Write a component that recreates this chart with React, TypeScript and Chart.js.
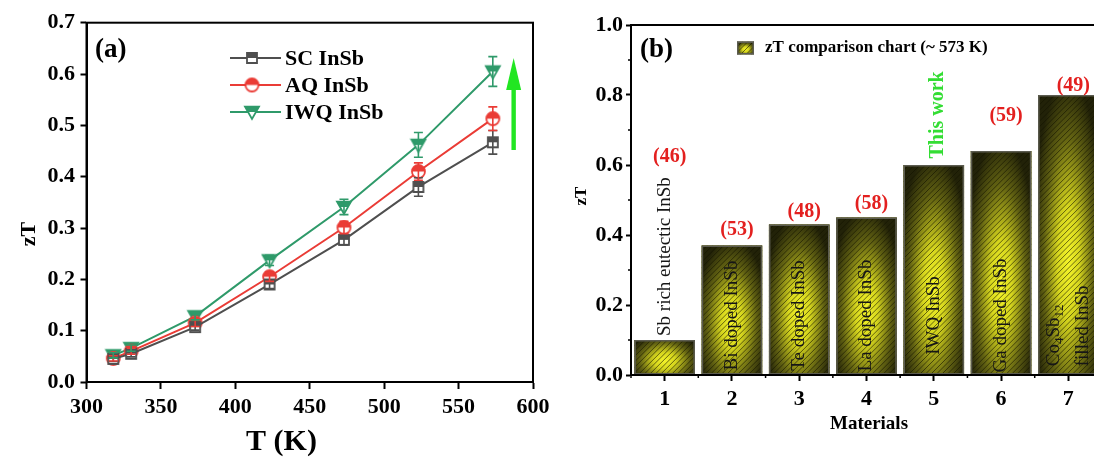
import React, { useEffect, useRef } from 'react';
import { Chart, registerables } from 'chart.js';
Chart.register(...registerables);

const FONT = "'Liberation Serif', 'Times New Roman', serif";

// ---------- Panel (a) data ----------
const temperatures = [318, 330, 373, 423, 473, 523, 573];
const scZT = [0.045, 0.055, 0.107, 0.19, 0.277, 0.38, 0.467];
const aqZT = [0.046, 0.06, 0.115, 0.205, 0.301, 0.41, 0.513];
const iwqZT = [0.052, 0.066, 0.128, 0.237, 0.341, 0.462, 0.605];
const scErr = [0.005, 0.006, 0.006, 0.008, 0.01, 0.018, 0.023];
const aqErr = [0.005, 0.006, 0.007, 0.009, 0.012, 0.017, 0.023];
const iwqErr = [0.005, 0.006, 0.007, 0.01, 0.015, 0.024, 0.029];
const seriesNames = ['SC InSb', 'AQ InSb', 'IWQ InSb'];
const seriesColors = ['#4f4f4f', '#ea3c36', '#2f9a6a'];
const seriesShapes = ['square', 'circle', 'triangle'];
const arrowT = 587;
const arrowFrom = 0.452;
const arrowTo = 0.631;

// ---------- Panel (b) data ----------
const materials = ['1', '2', '3', '4', '5', '6', '7'];
const materialZT = [0.1, 0.37, 0.43, 0.45, 0.6, 0.64, 0.8];
const materialNames = [
  'Sb rich eutectic InSb',
  'Bi doped InSb',
  'Te doped InSb',
  'La doped InSb',
  'IWQ InSb',
  'Ga doped InSb',
  'Co4Sb12\nfilled InSb',
];
const refLabels = ['(46)', '(53)', '(48)', '(58)', '', '(59)', '(49)'];
const refLabelY = [0.624, 0.414, 0.465, 0.49, 0, 0.74, 0.826];
const thisWorkIndex = 4;
const thisWorkY = 0.743;
const legendBText = 'zT comparison chart (~ 573 K)';

function makeMarker(shape: string, color: string, size: number) {
  const pad = 2;
  const S = size + pad * 2;
  const c = document.createElement('canvas');
  c.width = S;
  c.height = S;
  const g = c.getContext('2d')!;
  const cx = S / 2, cy = S / 2, r = size / 2;
  const path = () => {
    g.beginPath();
    if (shape === 'square') g.rect(cx - r, cy - r, size, size);
    else if (shape === 'circle') g.arc(cx, cy, r, 0, Math.PI * 2);
    else {
      g.moveTo(cx - r, cy - r * 0.75);
      g.lineTo(cx + r, cy - r * 0.75);
      g.lineTo(cx, cy + r);
      g.closePath();
    }
  };
  path();
  g.fillStyle = '#fff';
  g.fill();
  g.save();
  path();
  g.clip();
  g.fillStyle = color;
  g.fillRect(0, 0, S, cy);
  g.restore();
  path();
  g.strokeStyle = color;
  g.lineWidth = 1.8;
  g.stroke();
  return c;
}

function paintBar(ctx: CanvasRenderingContext2D, left: number, top: number, w: number, h: number) {
  ctx.save();
  ctx.beginPath();
  ctx.rect(left, top, w, h);
  ctx.clip();
  const cx = left + w / 2, cy = top + h * 0.6;
  const rx = w * 0.6;
  const ry = Math.max(h * 0.66, w * 0.45);
  ctx.save();
  ctx.translate(cx, cy);
  ctx.scale(1, ry / rx);
  const g = ctx.createRadialGradient(0, 0, 0, 0, 0, rx);
  g.addColorStop(0, '#f4f42a');
  g.addColorStop(0.3, '#d6d61e');
  g.addColorStop(0.68, '#626212');
  g.addColorStop(1, '#222208');
  ctx.fillStyle = g;
  ctx.fillRect(-2000, -2000, 4000, 4000);
  ctx.restore();
  ctx.strokeStyle = 'rgba(20,20,0,0.6)';
  ctx.lineWidth = 1;
  ctx.beginPath();
  const bottom = top + h;
  for (let k = -h; k < w + 2; k += 5.5) {
    ctx.moveTo(left + k, bottom);
    ctx.lineTo(left + k + h, bottom - h);
  }
  ctx.stroke();
  ctx.restore();
  ctx.save();
  ctx.strokeStyle = '#5c5c50';
  ctx.lineWidth = 1.5;
  ctx.strokeRect(left + 0.75, top + 0.75, w - 1.5, h - 1.5);
  ctx.restore();
}

function drawRichRotated(ctx: CanvasRenderingContext2D, text: string, size: number) {
  const parts: { t: string; sub: boolean }[] = [];
  const re = /([A-Za-z][^0-9]*)|([0-9]+)/g;
  let m: RegExpExecArray | null;
  let prevLetter = false;
  while ((m = re.exec(text))) {
    if (m[1]) {
      parts.push({ t: m[1], sub: false });
      prevLetter = true;
    } else {
      parts.push({ t: m[2], sub: prevLetter });
    }
  }
  let x = 0;
  for (const p of parts) {
    ctx.font = p.sub ? `${Math.round(size * 0.68)}px ${FONT}` : `${size}px ${FONT}`;
    ctx.fillText(p.t, x, p.sub ? size * 0.28 : 0);
    x += ctx.measureText(p.t).width;
  }
}

const seriesData = [scZT, aqZT, iwqZT];
const seriesErr = [scErr, aqErr, iwqErr];

export default function App() {
  const refA = useRef<HTMLCanvasElement>(null);
  const refB = useRef<HTMLCanvasElement>(null);

  useEffect(() => {
    const markers = seriesShapes.map((s, i) =>
      makeMarker(s, seriesColors[i], s === 'square' ? 10 : s === 'circle' ? 13 : 14)
    );

    const tickFont = { family: FONT, size: 22, weight: 'bold' as const };

    const panelAPlugin = {
      id: 'panelA',
      afterDraw(chart: any) {
        const ctx: CanvasRenderingContext2D = chart.ctx;
        const { left, right, top, bottom } = chart.chartArea;
        const xs = chart.scales.x, ys = chart.scales.y;
        ctx.save();
        seriesData.forEach((vals, si) => {
          ctx.strokeStyle = seriesColors[si];
          ctx.lineWidth = 1.6;
          vals.forEach((v, j) => {
            const e = seriesErr[si][j];
            const x = xs.getPixelForValue(temperatures[j]);
            const y1 = ys.getPixelForValue(v + e);
            const y2 = ys.getPixelForValue(v - e);
            ctx.beginPath();
            ctx.moveTo(x, y1);
            ctx.lineTo(x, y2);
            ctx.moveTo(x - 4.5, y1);
            ctx.lineTo(x + 4.5, y1);
            ctx.moveTo(x - 4.5, y2);
            ctx.lineTo(x + 4.5, y2);
            ctx.stroke();
          });
        });
        ctx.strokeStyle = '#000';
        ctx.lineWidth = 2;
        ctx.strokeRect(left, top, right - left, bottom - top);
        const ax = xs.getPixelForValue(arrowT);
        const ay0 = ys.getPixelForValue(arrowFrom);
        const ay1 = ys.getPixelForValue(arrowTo);
        ctx.fillStyle = '#22e622';
        ctx.fillRect(ax - 2.2, ay1 + 28, 4.4, ay0 - ay1 - 28);
        ctx.beginPath();
        ctx.moveTo(ax, ay1);
        ctx.lineTo(ax + 7.5, ay1 + 32);
        ctx.lineTo(ax - 7.5, ay1 + 32);
        ctx.closePath();
        ctx.fill();
        const rows = [58, 85, 112];
        seriesNames.forEach((name, i) => {
          ctx.strokeStyle = seriesColors[i];
          ctx.lineWidth = 2;
          ctx.beginPath();
          ctx.moveTo(230, rows[i]);
          ctx.lineTo(281, rows[i]);
          ctx.stroke();
          const mk = markers[i];
          ctx.drawImage(mk, 252 - mk.width / 2, rows[i] - mk.height / 2);
          ctx.fillStyle = '#000';
          ctx.font = `bold 22px ${FONT}`;
          ctx.textAlign = 'left';
          ctx.textBaseline = 'middle';
          ctx.fillText(name, 285, rows[i] + 1);
        });
        ctx.font = `bold 27px ${FONT}`;
        ctx.textAlign = 'left';
        ctx.textBaseline = 'middle';
        ctx.fillText('(a)', 95, 50);
        ctx.font = `bold 30px ${FONT}`;
        ctx.textAlign = 'center';
        ctx.fillText('T (K)', 281.5, 442);
        ctx.save();
        ctx.translate(29, 234);
        ctx.rotate(-Math.PI / 2);
        ctx.font = `bold 22px ${FONT}`;
        ctx.fillText('zT', 0, 0);
        ctx.restore();
        ctx.restore();
      },
    };

    const chartA = new Chart(refA.current!, {
      type: 'line',
      data: {
        datasets: seriesNames.map((name, i) => ({
          label: name,
          data: temperatures.map((t, j) => ({ x: t, y: seriesData[i][j] })),
          borderColor: seriesColors[i],
          backgroundColor: seriesColors[i],
          borderWidth: 2,
          pointStyle: markers[i] as any,
          pointRadius: 7,
          fill: false,
          tension: 0,
        })),
      },
      options: {
        animation: false,
        responsive: false,
        layout: { padding: { top: 22.7, right: 27, left: 0, bottom: 0 } },
        plugins: { legend: { display: false }, tooltip: { enabled: false } },
        scales: {
          x: {
            type: 'linear',
            min: 300,
            max: 600,
            ticks: { stepSize: 50, font: tickFont, color: '#000', padding: 5 },
            grid: { drawOnChartArea: false, drawTicks: true, tickLength: 7, tickWidth: 2, tickColor: '#000' },
            border: { display: true, color: '#000', width: 2 },
            afterFit: (s: any) => { s.height = 83; },
          } as any,
          y: {
            type: 'linear',
            min: 0,
            max: 0.7,
            ticks: { stepSize: 0.1, font: tickFont, color: '#000', padding: 5.5, callback: (v: any) => Number(v).toFixed(1) },
            grid: { drawOnChartArea: false, drawTicks: true, tickLength: 6, tickWidth: 2, tickColor: '#000' },
            border: { display: true, color: '#000', width: 2 },
            afterFit: (s: any) => { s.width = 86.5; },
          } as any,
        },
      },
      plugins: [panelAPlugin],
    });

    const panelBPlugin = {
      id: 'panelB',
      afterDatasetsDraw(chart: any) {
        const ctx: CanvasRenderingContext2D = chart.ctx;
        const meta = chart.getDatasetMeta(0);
        meta.data.forEach((bar: any) => {
          const p = bar.getProps(['x', 'y', 'base', 'width'], true);
          paintBar(ctx, p.x - p.width / 2, p.y, p.width, p.base - p.y);
        });
      },
      afterDraw(chart: any) {
        const ctx: CanvasRenderingContext2D = chart.ctx;
        const { left, right, top, bottom } = chart.chartArea;
        const xs = chart.scales.x, ys = chart.scales.y;
        const meta = chart.getDatasetMeta(0);
        ctx.save();
        ctx.strokeStyle = '#000';
        ctx.lineWidth = 2;
        ctx.beginPath();
        ctx.moveTo(right + 10, top);
        ctx.lineTo(left, top);
        ctx.lineTo(left, bottom);
        ctx.lineTo(right + 10, bottom);
        ctx.stroke();
        ctx.lineWidth = 1.5;
        ctx.beginPath();
        for (let v = 0.1; v < 1; v += 0.2) {
          const y = ys.getPixelForValue(v);
          ctx.moveTo(left - 3, y);
          ctx.lineTo(left, y);
        }
        const step = xs.getPixelForValue(1) - xs.getPixelForValue(0);
        for (let i = 0; i <= materials.length; i++) {
          const x = xs.getPixelForValue(0) + (i - 0.5) * step;
          ctx.moveTo(x, bottom);
          ctx.lineTo(x, bottom + 3);
        }
        ctx.stroke();
        ctx.fillStyle = '#161616';
        ctx.textBaseline = 'middle';
        meta.data.forEach((bar: any, i: number) => {
          const p = bar.getProps(['x', 'y', 'base', 'width'], true);
          const lines = materialNames[i].split('\n');
          ctx.save();
          if (materialZT[i] < 0.2) {
            ctx.translate(p.x, p.y - 4);
            ctx.rotate(-Math.PI / 2);
            ctx.textAlign = 'left';
            drawRichRotated(ctx, lines[0], 19);
          } else if (lines.length > 1) {
            const y0 = ys.getPixelForValue(0.025);
            const offs = [-14, 15];
            lines.forEach((ln, k) => {
              ctx.save();
              ctx.translate(p.x + offs[k], y0);
              ctx.rotate(-Math.PI / 2);
              ctx.textAlign = 'left';
              drawRichRotated(ctx, ln, 19);
              ctx.restore();
            });
          } else {
            ctx.font = `19px ${FONT}`;
            ctx.translate(p.x, ys.getPixelForValue(0.17));
            ctx.rotate(-Math.PI / 2);
            ctx.textAlign = 'center';
            ctx.fillText(lines[0], 0, 0);
          }
          ctx.restore();
        });
        ctx.fillStyle = '#e3201f';
        ctx.font = `bold 20px ${FONT}`;
        ctx.textAlign = 'center';
        refLabels.forEach((t, i) => {
          if (!t) return;
          ctx.fillText(t, xs.getPixelForValue(i) + 5, ys.getPixelForValue(refLabelY[i]));
        });
        ctx.save();
        ctx.fillStyle = '#33dd33';
        ctx.translate(xs.getPixelForValue(thisWorkIndex) + 4, ys.getPixelForValue(thisWorkY));
        ctx.rotate(-Math.PI / 2);
        ctx.font = `bold 20px ${FONT}`;
        ctx.textAlign = 'center';
        ctx.fillText('This work', 0, 0);
        ctx.restore();
        paintBar(ctx, 177, 41.5, 17, 13);
        ctx.fillStyle = '#000';
        ctx.font = `bold 17px ${FONT}`;
        ctx.textAlign = 'left';
        ctx.fillText(legendBText, 205, 48);
        ctx.font = `bold 27px ${FONT}`;
        ctx.fillText('(b)', 80, 50);
        ctx.font = `bold 19px ${FONT}`;
        ctx.textAlign = 'center';
        ctx.fillText('Materials', 309, 424);
        ctx.save();
        ctx.translate(21.5, 196);
        ctx.rotate(-Math.PI / 2);
        ctx.font = `bold 17px ${FONT}`;
        ctx.fillText('zT', 0, 0);
        ctx.restore();
        ctx.restore();
      },
    };

    const chartB = new Chart(refB.current!, {
      type: 'bar',
      data: {
        labels: materials,
        datasets: [
          {
            label: legendBText,
            data: materialZT,
            backgroundColor: '#c8c820',
            borderWidth: 0,
            barPercentage: 0.9,
            categoryPercentage: 1.0,
          },
        ],
      },
      options: {
        animation: false,
        responsive: false,
        layout: { padding: { top: 25, right: 18, left: 0, bottom: 0 } },
        plugins: { legend: { display: false }, tooltip: { enabled: false } },
        scales: {
          x: {
            offset: true,
            ticks: { font: tickFont, color: '#000', padding: 5 },
            grid: { offset: false, drawOnChartArea: false, drawTicks: true, tickLength: 6, tickWidth: 2, tickColor: '#000' },
            border: { display: true, color: '#000', width: 2 },
            afterFit: (s: any) => { s.height = 90; },
          } as any,
          y: {
            min: 0,
            max: 1,
            ticks: { stepSize: 0.2, font: tickFont, color: '#000', padding: 3, callback: (v: any) => Number(v).toFixed(1) },
            grid: { drawOnChartArea: false, drawTicks: true, tickLength: 5, tickWidth: 2, tickColor: '#000' },
            border: { display: true, color: '#000', width: 2 },
            afterFit: (s: any) => { s.width = 71; },
          } as any,
        },
      },
      plugins: [panelBPlugin],
    });

    return () => {
      chartA.destroy();
      chartB.destroy();
    };
  }, []);

  return (
    <div style={{ position: 'fixed', left: 0, top: 0, width: 1094, height: 465, overflow: 'hidden', background: '#fff' }}>
      <div style={{ position: 'absolute', left: 0, top: 0, width: 560, height: 465 }}>
        <canvas ref={refA} width={560} height={465} style={{ width: 560, height: 465 }} />
      </div>
      <div style={{ position: 'absolute', left: 560, top: 0, width: 560, height: 465 }}>
        <canvas ref={refB} width={560} height={465} style={{ width: 560, height: 465 }} />
      </div>
    </div>
  );
}
